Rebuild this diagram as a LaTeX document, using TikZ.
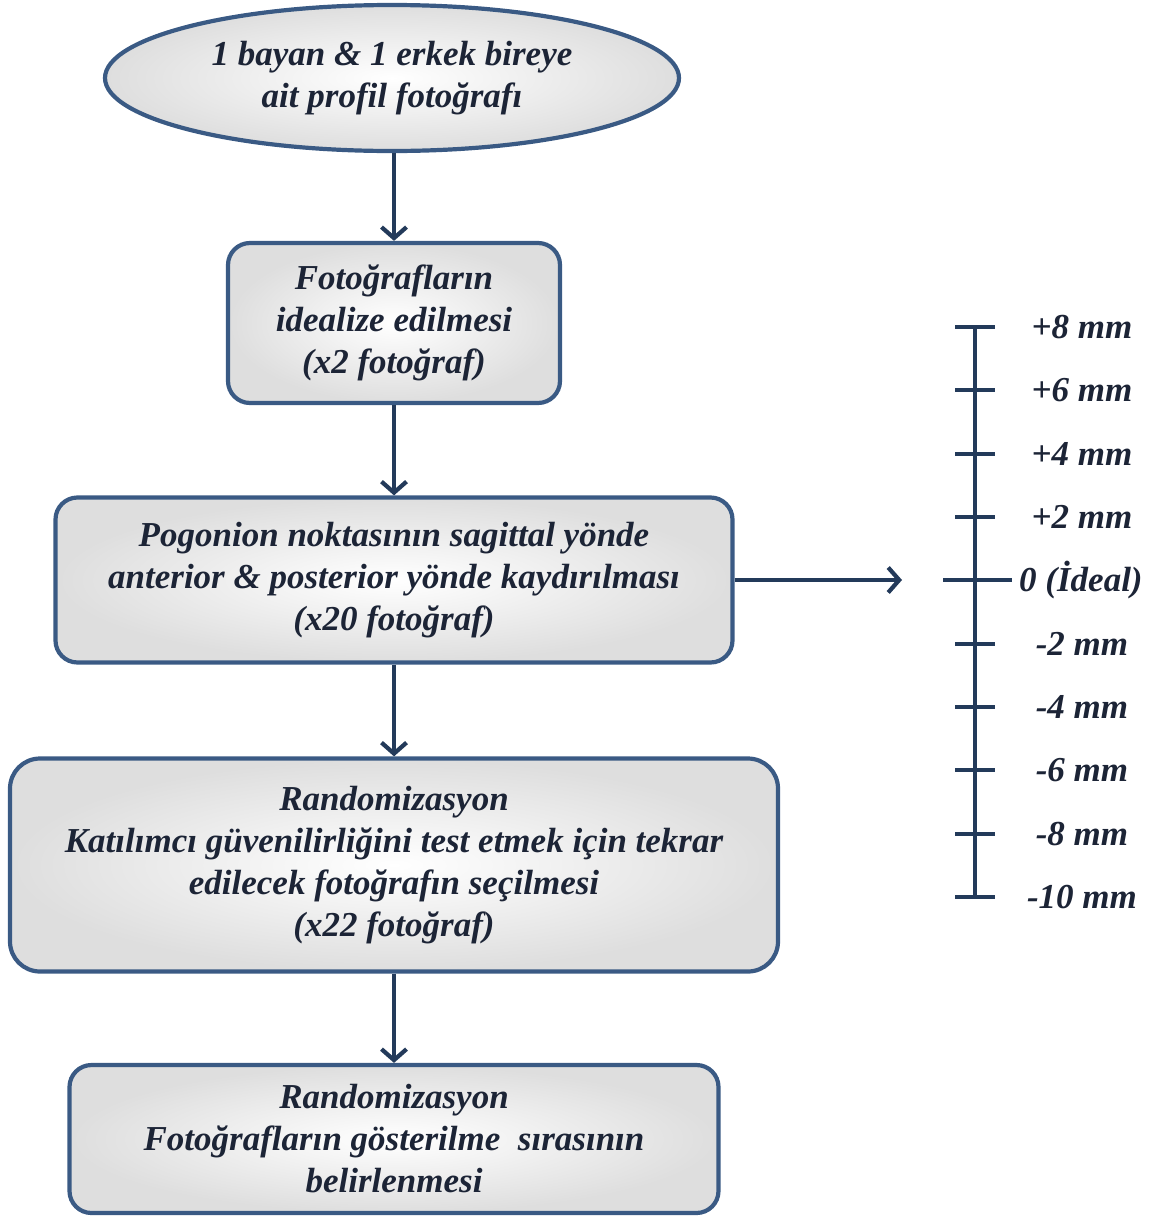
\documentclass[tikz,border=0pt]{standalone}
\usepackage{fontspec}
\setmainfont{Liberation Serif}
\usetikzlibrary{shapes.geometric,arrows.meta}
\definecolor{edgeC}{HTML}{3A5A84}
\definecolor{arrC}{HTML}{233A5A}
\definecolor{txtC}{HTML}{1C2436}
\newcommand{\boxfont}{\fontsize{35}{42}\selectfont\bfseries\itshape}
\newcommand{\scalefont}{\fontsize{35}{40}\selectfont\bfseries\itshape}
\tikzset{
  flowbox/.style={draw=edgeC, line width=4.2pt, rounded corners=22pt,
    inner color=white, outer color=black!13, align=center,
    font=\boxfont, text=txtC, inner sep=0pt},
  startshape/.style={ellipse, draw=edgeC, line width=4.2pt,
    inner color=white, outer color=black!13, align=center,
    font=\boxfont, text=txtC, inner sep=0pt},
  conn/.style={draw=arrC, line width=4.2pt, -{Straight Barb[length=11pt,width=25pt]}},
  scaleline/.style={draw=arrC, line width=4.2pt},
  scalelabel/.style={font=\scalefont, text=txtC, inner sep=0pt}
}
\begin{document}
\begin{tikzpicture}[x=1pt,y=-1pt]
\useasboundingbox (0,0) rectangle (1163,1216);
\node[startshape, minimum width=574pt, minimum height=146pt] (e) at (392,78)
  {1 bayan \& 1 erkek bireye\\ait profil fotoğrafı};
\node[flowbox, minimum width=332pt, minimum height=160pt] (b2) at (394,323)
  {Fotoğrafların\\idealize edilmesi\\(x2 fotoğraf)};
\node[flowbox, minimum width=677pt, minimum height=165pt] (b3) at (394,580)
  {Pogonion noktasının sagittal yönde\\anterior \& posterior yönde kaydırılması\\(x20 fotoğraf)};
\node[flowbox, rounded corners=30pt, minimum width=768pt, minimum height=213pt] (b4) at (394,865)
  {Randomizasyon\\Katılımcı güvenilirliğini test etmek için tekrar\\edilecek fotoğrafın seçilmesi\\(x22 fotoğraf)};
\node[flowbox, minimum width=649pt, minimum height=148pt] (b5) at (394,1139)
  {Randomizasyon\\Fotoğrafların gösterilme\ \ sırasının\\belirlenmesi};
\draw[conn] (e.south -| b2.north) -- (b2.north);
\draw[conn] (b2.south) -- (b3.north);
\draw[conn] (b3.south) -- (b4.north);
\draw[conn] (b4.south) -- (b5.north);
\coordinate (tip) at (902,580);
\draw[conn] (b3.east) -- (tip);
% scale
\coordinate (stop) at (975,327);
\coordinate (sbot) at (975,897);
\draw[scaleline] (stop) -- (sbot);
\foreach \v [count=\i from 0] in {+8,+6,+4,+2,X,-2,-4,-6,-8,-10}{
  \pgfmathsetmacro{\yy}{327+63.33*\i}
  \ifnum\i=4
    \draw[scaleline] (943,\yy) -- (1012,\yy);
    \node[scalelabel, anchor=west] (lab\i) at (1019,\yy) {0 (İdeal)};
  \else
    \draw[scaleline] (955,\yy) -- (995,\yy);
    \node[scalelabel] (lab\i) at (1082,\yy) {\v\ mm};
  \fi
}
\end{tikzpicture}
\end{document}
